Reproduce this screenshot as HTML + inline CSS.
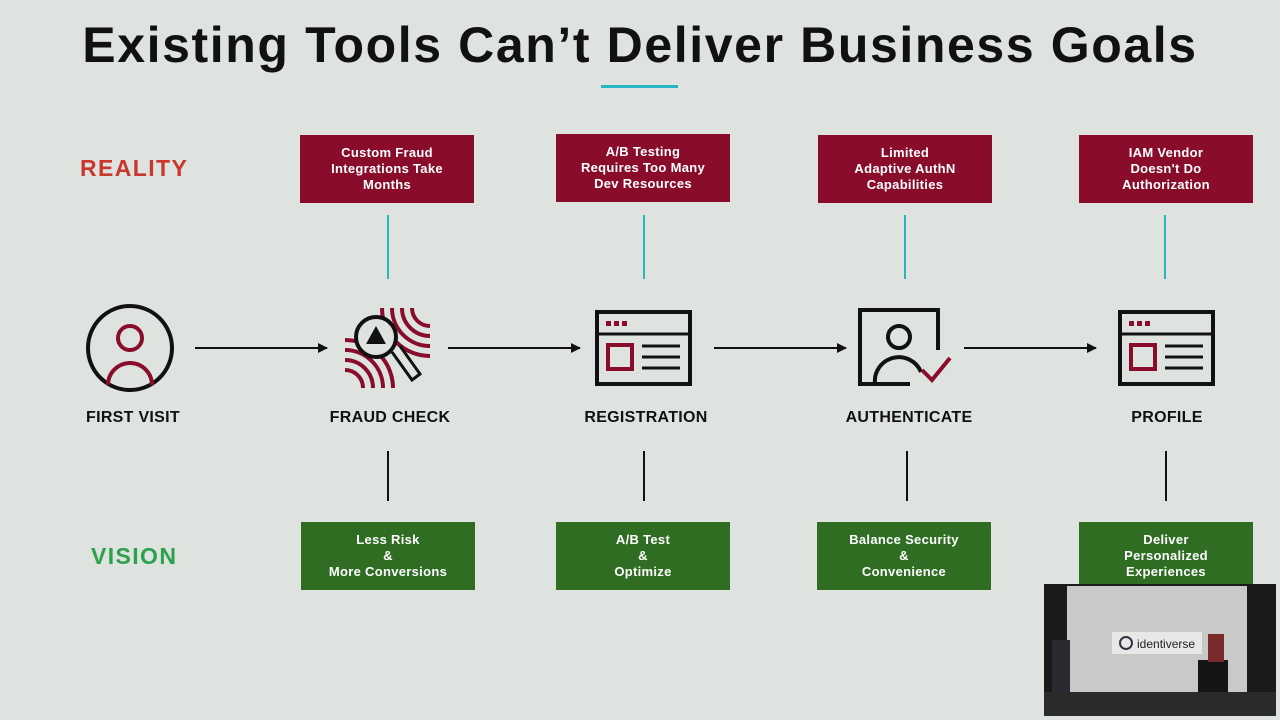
<!DOCTYPE html>
<html><head><style>
body{margin:0;width:1280px;height:720px;background:#dfe3df;position:relative;overflow:hidden;font-family:"Liberation Sans",sans-serif}
.a{position:absolute}
.t{left:0;width:1280px;top:16px;text-align:center;font-size:50px;font-weight:bold;color:#111;letter-spacing:1.6px}
.r{background:#8a0c2b;color:#fff;font-weight:bold;font-size:13px;line-height:16px;text-align:center;display:flex;align-items:center;justify-content:center;width:174px;height:68px;letter-spacing:0.3px}
.g{background:#2f6e22;color:#fff;font-weight:bold;font-size:13px;line-height:16px;text-align:center;display:flex;align-items:center;justify-content:center;width:174px;height:68px;letter-spacing:0.3px}
.tl{width:2px;background:#2bb5c0;top:215px;height:64px}
.bl{width:2px;background:#111;top:451px;height:50px}
.lb{top:409px;font-size:16px;font-weight:bold;color:#111;width:200px;text-align:center;letter-spacing:0.3px}
</style></head><body>
<div class="a t">Existing Tools Can’t Deliver Business Goals</div>
<div class="a" style="left:601px;top:85px;width:77px;height:3px;background:#2bb5c0"></div>
<div class="a" style="left:80px;top:155px;font-size:23px;font-weight:bold;color:#c8382c;letter-spacing:1.4px">REALITY</div>
<div class="a" style="left:91px;top:543px;font-size:23px;font-weight:bold;color:#2aa14a;letter-spacing:1.4px">VISION</div>

<div class="a r" style="left:300px;top:135px">Custom Fraud<br>Integrations Take<br>Months</div>
<div class="a r" style="left:556px;top:134px">A/B Testing<br>Requires Too Many<br>Dev Resources</div>
<div class="a r" style="left:818px;top:135px">Limited<br>Adaptive AuthN<br>Capabilities</div>
<div class="a r" style="left:1079px;top:135px">IAM Vendor<br>Doesn't Do<br>Authorization</div>

<div class="a tl" style="left:387px"></div><div class="a tl" style="left:643px"></div><div class="a tl" style="left:904px"></div><div class="a tl" style="left:1164px"></div>
<div class="a bl" style="left:387px"></div><div class="a bl" style="left:643px"></div><div class="a bl" style="left:906px"></div><div class="a bl" style="left:1165px"></div>

<div class="a g" style="left:301px;top:522px">Less Risk<br>&amp;<br>More Conversions</div>
<div class="a g" style="left:556px;top:522px">A/B Test<br>&amp;<br>Optimize</div>
<div class="a g" style="left:817px;top:522px">Balance Security<br>&amp;<br>Convenience</div>
<div class="a g" style="left:1079px;top:522px">Deliver<br>Personalized<br>Experiences</div>

<div class="a lb" style="left:33px">FIRST VISIT</div>
<div class="a lb" style="left:290px">FRAUD CHECK</div>
<div class="a lb" style="left:546px">REGISTRATION</div>
<div class="a lb" style="left:809px">AUTHENTICATE</div>
<div class="a lb" style="left:1067px">PROFILE</div>

<svg class="a" style="left:0;top:0" width="1280" height="720">
<defs><marker id="m" markerWidth="5" markerHeight="5" refX="4.5" refY="2.5" orient="auto"><path d="M0,0 L5,2.5 L0,5z" fill="#111"/></marker></defs>
<g stroke="#111" stroke-width="2" marker-end="url(#m)">
<line x1="195" y1="348" x2="327" y2="348"/><line x1="448" y1="348" x2="580" y2="348"/>
<line x1="714" y1="348" x2="846" y2="348"/><line x1="964" y1="348" x2="1096" y2="348"/></g>
<circle cx="130" cy="348" r="42" fill="none" stroke="#111" stroke-width="4"/>
<circle cx="130" cy="338" r="12" fill="none" stroke="#8a0c2b" stroke-width="4"/>
<path d="M108,385 A22,22 0 0 1 152,385" fill="none" stroke="#8a0c2b" stroke-width="4"/>
<g fill="none" stroke="#8a0c2b" stroke-width="4">
<path d="M382,308 A48,48 0 0 0 430,356"/><path d="M392,308 A38,38 0 0 0 430,346"/><path d="M402,308 A28,28 0 0 0 430,336"/><path d="M412,308 A18,18 0 0 0 430,326"/>
<path d="M345,340 A48,48 0 0 1 393,388"/><path d="M345,350 A38,38 0 0 1 383,388"/><path d="M345,360 A28,28 0 0 1 373,388"/><path d="M345,370 A18,18 0 0 1 363,388"/></g>
<circle cx="376" cy="337" r="20" fill="#dfe3df" stroke="#111" stroke-width="4"/>
<path d="M376,326 L386,344 L366,344z" fill="#111"/>
<path d="M392,352 L412,380 L420,374 L400,346" fill="none" stroke="#111" stroke-width="3"/>
<g fill="none" stroke="#111" stroke-width="4"><rect x="597" y="312" width="93" height="72"/></g>
<line x1="597" y1="334" x2="690" y2="334" stroke="#111" stroke-width="3"/>
<g fill="#8a0c2b"><rect x="606" y="321" width="5" height="5"/><rect x="614" y="321" width="5" height="5"/><rect x="622" y="321" width="5" height="5"/></g>
<rect x="608" y="345" width="24" height="24" fill="none" stroke="#8a0c2b" stroke-width="4"/>
<g stroke="#111" stroke-width="3"><line x1="642" y1="346" x2="680" y2="346"/><line x1="642" y1="357" x2="680" y2="357"/><line x1="642" y1="368" x2="680" y2="368"/></g>
<path d="M910,384 L860,384 L860,310 L938,310 L938,350" fill="none" stroke="#111" stroke-width="4"/>
<circle cx="899" cy="337" r="11" fill="none" stroke="#111" stroke-width="4"/>
<path d="M875,384 A24,24 0 0 1 921,372" fill="none" stroke="#111" stroke-width="4"/>
<path d="M922,370 L932,380 L950,358" fill="none" stroke="#8a0c2b" stroke-width="4"/>
<g fill="none" stroke="#111" stroke-width="4"><rect x="1120" y="312" width="93" height="72"/></g>
<line x1="1120" y1="334" x2="1213" y2="334" stroke="#111" stroke-width="3"/>
<g fill="#8a0c2b"><rect x="1129" y="321" width="5" height="5"/><rect x="1137" y="321" width="5" height="5"/><rect x="1145" y="321" width="5" height="5"/></g>
<rect x="1131" y="345" width="24" height="24" fill="none" stroke="#8a0c2b" stroke-width="4"/>
<g stroke="#111" stroke-width="3"><line x1="1165" y1="346" x2="1203" y2="346"/><line x1="1165" y1="357" x2="1203" y2="357"/><line x1="1165" y1="368" x2="1203" y2="368"/></g>
<rect x="1044" y="584" width="232" height="132" fill="#1a1a1a"/>
<rect x="1067" y="586" width="180" height="110" fill="#c9cac8"/>
<rect x="1112" y="632" width="90" height="22" fill="#e8e8e6"/>
<text x="1137" y="648" font-family="Liberation Sans" font-size="12" fill="#222">identiverse</text>
<circle cx="1126" cy="643" r="6" fill="none" stroke="#334" stroke-width="2"/>
<rect x="1052" y="640" width="18" height="60" fill="#2a2a30"/>
<rect x="1198" y="660" width="30" height="40" fill="#151515"/>
<rect x="1208" y="634" width="16" height="28" fill="#7a2a2a"/>
<rect x="1044" y="692" width="232" height="24" fill="#2a2a2a"/>
</svg>
</body></html>
